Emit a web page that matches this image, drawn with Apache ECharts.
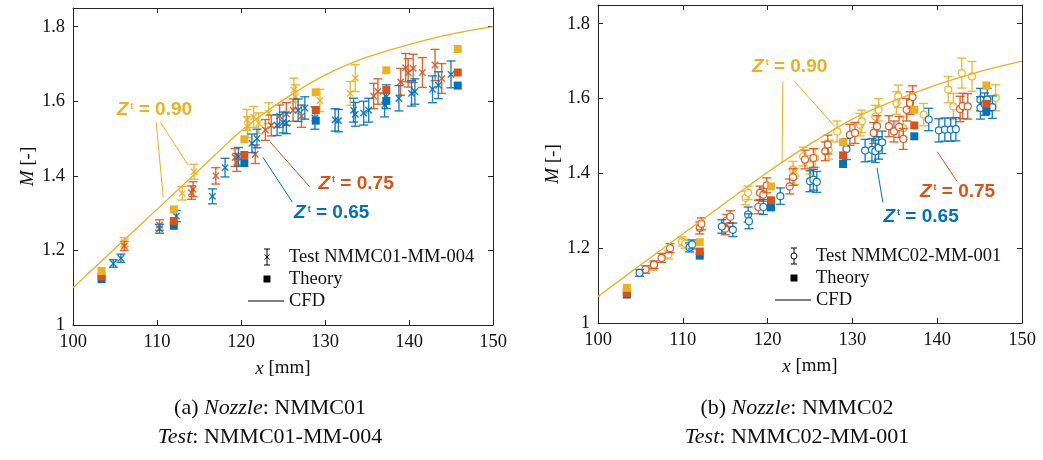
<!DOCTYPE html>
<html><head><meta charset="utf-8">
<script src="https://cdn.jsdelivr.net/npm/echarts@6/dist/echarts.min.js"></script>
<style>html,body{margin:0;padding:0;background:#fff}#c{width:1043px;height:460px}</style>
</head><body><div id="c"></div>
<script>
// ---------- data ----------
const xTicks = [100, 110, 120, 130, 140, 150];
const yTicks = [1, 1.2, 1.4, 1.6, 1.8];

// Theory points (both nozzles, same x stations)
const theoryX = [103.4, 112.0, 120.4, 128.9, 137.3, 145.8];
const thL65 = [1.123, 1.266, 1.434, 1.548, 1.601, 1.642];
const thL75 = [1.130, 1.279, 1.456, 1.576, 1.630, 1.677];
const thL90 = [1.145, 1.310, 1.498, 1.624, 1.683, 1.740];
const thR65 = [1.076, 1.180, 1.309, 1.425, 1.499, 1.566];
const thR75 = [1.080, 1.191, 1.328, 1.448, 1.528, 1.586];
const thR90 = [1.094, 1.216, 1.365, 1.483, 1.570, 1.635];

// CFD
const cfdLx = [100, 105, 110, 115, 120, 125, 130, 135, 140, 145, 150];
const cfdLy = [1.100, 1.205, 1.310, 1.415, 1.520, 1.603, 1.670, 1.718, 1.752, 1.780, 1.800];
const cfdRx = [100, 105, 110, 115, 120, 125, 130, 135, 140, 145, 150];
const cfdRy = [1.071, 1.155, 1.238, 1.321, 1.403, 1.478, 1.545, 1.595, 1.637, 1.672, 1.700];

// Test NMMC01-MM-004
const L65x = [104.8,105.7,110.3,112.3,116.6,118.1,119.7,121.3,121.9,124.3,125.0,125.4,126.8,127.6,128.8,131.2,131.6,133.4,133.6,134.6,135.2,137.1,137.3,138.8,140.3,140.7,142.8,143.5,145.0];
const L65y = [1.165,1.179,1.258,1.292,1.345,1.422,1.451,1.487,1.500,1.536,1.543,1.541,1.576,1.582,1.555,1.550,1.548,1.576,1.565,1.568,1.576,1.590,1.612,1.608,1.621,1.626,1.632,1.643,1.672];
const L65e = [0.010,0.011,0.012,0.015,0.020,0.025,0.025,0.025,0.025,0.028,0.028,0.028,0.030,0.030,0.030,0.030,0.030,0.032,0.032,0.032,0.032,0.032,0.032,0.034,0.034,0.034,0.036,0.036,0.036];
const L75x = [106.1,110.3,114.1,114.3,117.0,119.3,119.5,121.7,122.9,123.6,124.6,125.4,126.2,127.2,135.8,136.3,139.0,139.6,139.9,140.5,141.6,143.1,143.9];
const L75y = [1.212,1.268,1.355,1.364,1.400,1.449,1.436,1.458,1.523,1.535,1.560,1.566,1.576,1.560,1.614,1.626,1.652,1.690,1.676,1.688,1.677,1.697,1.661];
const L75e = [0.012,0.014,0.018,0.020,0.022,0.024,0.024,0.025,0.028,0.028,0.030,0.030,0.030,0.030,0.034,0.034,0.036,0.038,0.038,0.038,0.040,0.042,0.040];
const L90x = [106.1,113.0,114.4,120.7,120.8,121.5,122.1,123.3,126.3,126.5,129.4,133.0,133.6];
const L90y = [1.222,1.353,1.411,1.550,1.531,1.558,1.541,1.568,1.630,1.612,1.602,1.621,1.662];
const L90e = [0.012,0.018,0.020,0.028,0.028,0.028,0.028,0.028,0.032,0.032,0.030,0.032,0.036];

// Test NMMC02-MM-001
const R65x = [104.9,110.8,111.1,114.6,115.9,117.7,117.8,119.5,121.5,125.0,125.4,125.8,129.3,131.5,132.3,132.7,133.1,133.5,139.0,140.2,140.9,141.6,142.2,145.1,145.1,145.6,145.9,146.5];
const R65y = [1.134,1.202,1.210,1.258,1.249,1.290,1.272,1.310,1.339,1.379,1.383,1.377,1.465,1.461,1.463,1.459,1.468,1.483,1.544,1.515,1.517,1.517,1.518,1.597,1.575,1.585,1.597,1.577];
const R65e = [0.009,0.012,0.012,0.018,0.018,0.020,0.020,0.020,0.022,0.028,0.028,0.028,0.028,0.030,0.030,0.030,0.030,0.030,0.030,0.031,0.031,0.031,0.031,0.030,0.030,0.030,0.030,0.030];
const R75x = [105.6,106.6,107.5,108.5,112.0,112.2,115.0,115.2,115.6,118.9,119.1,119.5,119.9,122.6,123.0,124.4,125.4,126.8,127.1,129.7,130.3,132.5,132.9,134.3,134.9,135.5,136.0,136.4,136.8,137.1,142.7,143.0,143.6];
const R75y = [1.143,1.156,1.174,1.200,1.254,1.265,1.252,1.274,1.284,1.310,1.348,1.343,1.368,1.365,1.390,1.437,1.441,1.459,1.477,1.503,1.508,1.508,1.526,1.526,1.512,1.524,1.492,1.570,1.588,1.604,1.572,1.580,1.579];
const R75e = [0.010,0.010,0.012,0.012,0.016,0.016,0.016,0.016,0.016,0.018,0.018,0.018,0.020,0.020,0.022,0.025,0.025,0.025,0.025,0.028,0.028,0.028,0.028,0.028,0.028,0.028,0.028,0.030,0.030,0.030,0.034,0.034,0.034];
const R90x = [106.5,108.3,109.9,110.3,117.4,117.7,123.0,123.2,124.2,125.0,125.6,127.2,128.2,130.9,131.1,132.7,133.1,135.2,135.4,136.0,138.4,141.3,141.9,142.9,144.1,146.9];
const R90y = [1.151,1.183,1.218,1.212,1.334,1.348,1.410,1.392,1.445,1.423,1.441,1.463,1.512,1.530,1.539,1.552,1.570,1.588,1.606,1.521,1.557,1.624,1.579,1.668,1.659,1.602];
const R90e = [0.010,0.012,0.012,0.012,0.018,0.018,0.022,0.022,0.025,0.025,0.025,0.025,0.028,0.030,0.030,0.030,0.030,0.030,0.030,0.030,0.030,0.035,0.035,0.040,0.040,0.035];

// ---------- style ----------
const C65 = '#0072BD', C75 = '#D95319', C90 = '#EDB120';
const AX = '#262626';
const SERIF = 'Liberation Serif';
const SANS = 'Liberation Sans';

const chart = echarts.init(document.getElementById('c'), null, {renderer: 'canvas'});

const zip3 = (a, b, c) => a.map((v, i) => [v, b[i], c[i]]);
const zip2 = (a, b) => a.map((v, i) => [v, b[i]]);

function errRender(marker, color) {
  return function (params, api) {
    const x = api.value(0), y = api.value(1), e = api.value(2);
    const c = api.coord([x, y]);
    const t = api.coord([x, y + e]);
    const b = api.coord([x, y - e]);
    const w = 4.5;
    const st = {stroke: color, lineWidth: 1.4, opacity: 0.88};
    const kids = [
      {type: 'line', shape: {x1: c[0], y1: t[1], x2: c[0], y2: b[1]}, style: st},
      {type: 'line', shape: {x1: c[0] - w, y1: t[1], x2: c[0] + w, y2: t[1]}, style: st},
      {type: 'line', shape: {x1: c[0] - w, y1: b[1], x2: c[0] + w, y2: b[1]}, style: st}
    ];
    if (marker === 'x') {
      const m = 3.2;
      kids.push({type: 'line', shape: {x1: c[0] - m, y1: c[1] - m, x2: c[0] + m, y2: c[1] + m}, style: st});
      kids.push({type: 'line', shape: {x1: c[0] - m, y1: c[1] + m, x2: c[0] + m, y2: c[1] - m}, style: st});
    } else {
      kids.push({type: 'circle', shape: {cx: c[0], cy: c[1], r: 3.5}, style: {fill: '#fff', stroke: color, lineWidth: 1.2, opacity: 0.92}});
    }
    return {type: 'group', children: kids};
  };
}

function errSeries(g, marker, color, xs, ys, es) {
  return {
    type: 'custom', xAxisIndex: g, yAxisIndex: g,
    renderItem: errRender(marker, color),
    encode: {x: 0, y: 1},
    data: zip3(xs, ys, es), silent: true, z: 2
  };
}
function thSeries(g, color, ys) {
  return {
    type: 'scatter', xAxisIndex: g, yAxisIndex: g, symbol: 'rect', symbolSize: 8,
    itemStyle: {color: color, opacity: 1}, data: zip2(theoryX, ys), silent: true, z: 3
  };
}
function cfdSeries(g, xs, ys) {
  return {
    type: 'line', xAxisIndex: g, yAxisIndex: g, data: zip2(xs, ys), smooth: 0.3,
    showSymbol: false, lineStyle: {color: C90, width: 1.3}, silent: true, z: 4
  };
}

const grids = [
  {left: 73, top: 8, width: 420, height: 317},
  {left: 598, top: 5, width: 424, height: 318}
];

const tickLbl = {fontFamily: SERIF, fontSize: 18.5, color: '#111', margin: 8};

function xAx(g, pos, showLbl) {
  return {
    type: 'value', gridIndex: g, position: pos, min: xTicks[0], max: xTicks[xTicks.length - 1], interval: 10,
    axisLine: {show: true, onZero: false, lineStyle: {color: AX, width: 1}},
    axisTick: {show: true, inside: true, length: 5, lineStyle: {color: AX}},
    splitLine: {show: false},
    axisLabel: Object.assign({show: showLbl}, tickLbl),
    name: showLbl ? '{i|x} [mm]' : '', nameLocation: 'middle', nameGap: 34,
    nameTextStyle: {fontFamily: SERIF, fontSize: 19, color: '#111',
      rich: {i: {fontFamily: SERIF, fontSize: 19, fontStyle: 'italic', color: '#111'}}}
  };
}
function yAx(g, pos, showLbl) {
  return {
    type: 'value', gridIndex: g, position: pos, min: yTicks[0], max: 1.85, interval: 0.2,
    axisLine: {show: true, onZero: false, lineStyle: {color: AX, width: 1}},
    axisTick: {show: true, inside: true, length: 5, lineStyle: {color: AX}},
    splitLine: {show: false},
    axisLabel: Object.assign({show: showLbl, showMaxLabel: false,
      formatter: v => (yTicks.some(t => Math.abs(t - v) < 1e-6) ? String(+v.toFixed(1)) : '')}, tickLbl),
    name: showLbl ? '{i|M} [-]' : '', nameLocation: 'middle', nameGap: 34, nameRotate: 90,
    nameTextStyle: {fontFamily: SERIF, fontSize: 19, color: '#111',
      rich: {i: {fontFamily: SERIF, fontSize: 19, fontStyle: 'italic', color: '#111'}}}
  };
}

const series = [
  errSeries(0, 'x', C90, L90x, L90y, L90e),
  errSeries(0, 'x', C75, L75x, L75y, L75e),
  errSeries(0, 'x', C65, L65x, L65y, L65e),
  thSeries(0, C65, thL65), thSeries(0, C75, thL75), thSeries(0, C90, thL90),
  cfdSeries(0, cfdLx, cfdLy),
  errSeries(1, 'o', C90, R90x, R90y, R90e),
  errSeries(1, 'o', C75, R75x, R75y, R75e),
  errSeries(1, 'o', C65, R65x, R65y, R65e),
  thSeries(1, C65, thR65), thSeries(1, C75, thR75), thSeries(1, C90, thR90),
  cfdSeries(1, cfdRx, cfdRy)
];

chart.setOption({
  animation: false,
  backgroundColor: '#fff',
  grid: grids,
  xAxis: [xAx(0, 'bottom', true), xAx(1, 'bottom', true), xAx(0, 'top', false), xAx(1, 'top', false)],
  yAxis: [yAx(0, 'left', true), yAx(1, 'left', true), yAx(0, 'right', false), yAx(1, 'right', false)],
  series: series
});

// ---------- annotations (anchored in data coordinates) ----------
function px(g, x, y) { return chart.convertToPixel({gridIndex: g}, [x, y]); }
function zLabel(g, x, y, val, color) {
  const p = px(g, x, y);
  return {
    type: 'text', x: p[0], y: p[1], z: 20,
    style: {
      text: '{z|Z}{s|t}{n| = ' + val + '}', align: 'center', verticalAlign: 'middle', fill: color,
      rich: {
        z: {fontFamily: SANS, fontSize: 19, fontWeight: 'bold', fontStyle: 'italic', fill: color, verticalAlign: 'bottom'},
        s: {fontFamily: SANS, fontSize: 9, fontWeight: 'bold', fill: color, verticalAlign: 'top', padding: [1, 0, 0, 2]},
        n: {fontFamily: SANS, fontSize: 19, fontWeight: 'bold', fill: color, verticalAlign: 'bottom'}
      }
    }
  };
}
function aLine(g, x1, y1, x2, y2, color) {
  const a = px(g, x1, y1), b = px(g, x2, y2);
  return {type: 'line', z: 20, shape: {x1: a[0], y1: a[1], x2: b[0], y2: b[1]}, style: {stroke: color, lineWidth: 1}};
}

// legend helpers (pixel layout)
function legend(cx, y0, label) {
  const k = '#000', g = [];
  const y1 = y0, y2 = y0 + 22, y3 = y0 + 44;
  g.push({type: 'line', shape: {x1: cx, y1: y1 - 8, x2: cx, y2: y1 + 8}, style: {stroke: k, lineWidth: 1}});
  g.push({type: 'line', shape: {x1: cx - 3, y1: y1 - 8, x2: cx + 3, y2: y1 - 8}, style: {stroke: k, lineWidth: 1}});
  g.push({type: 'line', shape: {x1: cx - 3, y1: y1 + 8, x2: cx + 3, y2: y1 + 8}, style: {stroke: k, lineWidth: 1}});
  if (label.marker === 'x') {
    g.push({type: 'line', shape: {x1: cx - 2.5, y1: y1 - 2.5, x2: cx + 2.5, y2: y1 + 2.5}, style: {stroke: k, lineWidth: 1}});
    g.push({type: 'line', shape: {x1: cx - 2.5, y1: y1 + 2.5, x2: cx + 2.5, y2: y1 - 2.5}, style: {stroke: k, lineWidth: 1}});
  } else {
    g.push({type: 'circle', shape: {cx: cx, cy: y1, r: 3}, style: {fill: '#fff', stroke: k, lineWidth: 1}});
  }
  g.push({type: 'rect', shape: {x: cx - 3.5, y: y2 - 3.5, width: 7, height: 7}, style: {fill: k}});
  g.push({type: 'line', shape: {x1: cx - 19, y1: y3, x2: cx + 17, y2: y3}, style: {stroke: k, lineWidth: 1}});
  const tx = cx + 22;
  [[label.test, y1], ['Theory', y2], ['CFD', y3]].forEach(([t, yy]) => {
    g.push({type: 'text', x: tx, y: yy, style: {text: t, fontFamily: SERIF, fontSize: 18.5, fill: '#111', align: 'left', verticalAlign: 'middle'}});
  });
  return {type: 'group', z: 20, children: g};
}

function caption(cx, y, letter, nozzle, test) {
  return {
    type: 'text', x: cx, y: y, z: 20,
    style: {
      text: '{n|(' + letter + ') }{i|Nozzle}{n|: ' + nozzle + '}\n{i|Test}{n|: ' + test + '}',
      align: 'center', verticalAlign: 'middle', lineHeight: 29, fill: '#111',
      rich: {
        n: {fontFamily: SERIF, fontSize: 22, fill: '#111', lineHeight: 29},
        i: {fontFamily: SERIF, fontSize: 22, fontStyle: 'italic', fill: '#111', lineHeight: 29}
      }
    }
  };
}

chart.setOption({
  graphic: [
    zLabel(0, 109.7, 1.576, '0.90', C90),
    aLine(0, 109.9, 1.544, 110.74, 1.343, C90),
    aLine(0, 110.4, 1.544, 113.72, 1.428, C90),
    zLabel(0, 133.7, 1.380, '0.75', C75),
    aLine(0, 123.5, 1.490, 128.2, 1.370, C75),
    zLabel(0, 130.8, 1.300, '0.65', C65),
    aLine(0, 122.6, 1.450, 126.1, 1.330, C65),

    zLabel(1, 122.6, 1.685, '0.90', C90),
    aLine(1, 121.8, 1.645, 121.7, 1.428, C90),
    aLine(1, 123.2, 1.645, 127.95, 1.525, C90),
    zLabel(1, 142.4, 1.351, '0.75', C75),
    aLine(1, 140.0, 1.458, 142.35, 1.378, C75),
    zLabel(1, 138.1, 1.284, '0.65', C65),
    aLine(1, 132.9, 1.415, 133.6, 1.322, C65),

    legend(267, 257, {marker: 'x', test: 'Test NMMC01-MM-004'}),
    legend(794, 256, {marker: 'o', test: 'Test NMMC02-MM-001'}),

    caption(270, 423, 'a', 'NMMC01', 'NMMC01-MM-004'),
    caption(797, 423, 'b', 'NMMC02', 'NMMC02-MM-001')
  ]
});
</script>
</body></html>
